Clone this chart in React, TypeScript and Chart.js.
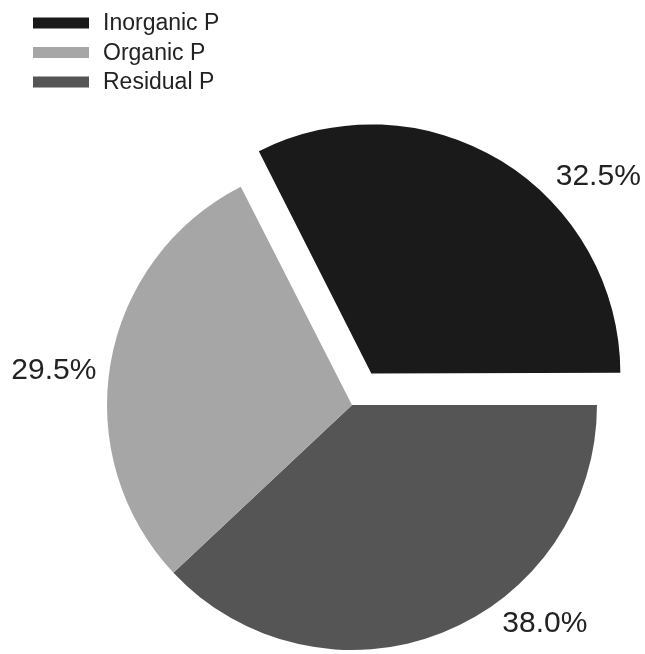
import React, { useEffect, useRef } from "react";
import { Chart, registerables } from "chart.js";

Chart.register(...registerables);

// Legend order
const categories = ["Inorganic P", "Organic P", "Residual P"];
const shares = [32.5, 29.5, 38.0];
const colors = ["#1a1a1a", "#a6a6a6", "#555555"];
const explode = [148, 0, 0];
// label placement: angle nudge (deg) from slice bisector, radial factor
const labelNudge = [15.7, -3.3, -19.8];
const labelRadius = [1.37, 1.225, 1.19];

// drawing order (clockwise from 3 o'clock): Residual, Organic, Inorganic
const drawOrder = [2, 1, 0];

const FONT = "'Liberation Sans', Arial, sans-serif";

const customPlugin = {
  id: "custom",
  afterDraw(chart: any) {
    const ctx = chart.ctx;
    const meta = chart.getDatasetMeta(0);
    ctx.save();
    // slice labels
    ctx.font = `30px ${FONT}`;
    ctx.fillStyle = "#222222";
    ctx.textAlign = "center";
    ctx.textBaseline = "middle";
    meta.data.forEach((arc: any, i: number) => {
      const ci = drawOrder[i];
      const mid = (arc.startAngle + arc.endAngle) / 2 + (labelNudge[ci] * Math.PI) / 180;
      const r = arc.outerRadius * labelRadius[ci];
      const x = arc.x + Math.cos(mid) * r;
      const y = arc.y + Math.sin(mid) * r;
      ctx.fillText(shares[ci].toFixed(1) + "%", x, y);
    });
    // legend
    ctx.font = `23px ${FONT}`;
    ctx.textAlign = "left";
    categories.forEach((c, i) => {
      const cy = 23 + i * 29.5;
      ctx.fillStyle = colors[i];
      ctx.fillRect(33, cy - 5.5, 56, 11);
      ctx.fillStyle = "#222222";
      ctx.fillText(c, 103, cy + 1);
    });
    ctx.restore();
  },
};

export default function App() {
  const ref = useRef<HTMLCanvasElement | null>(null);
  useEffect(() => {
    document.body.style.margin = "0";
    const canvas = ref.current;
    if (!canvas) return;
    const chart = new Chart(canvas, {
      type: "pie",
      data: {
        labels: drawOrder.map((i) => categories[i]),
        datasets: [
          {
            data: drawOrder.map((i) => shares[i]),
            backgroundColor: drawOrder.map((i) => colors[i]),
            offset: drawOrder.map((i) => explode[i]),
            borderWidth: 0,
            hoverOffset: 0,
          } as any,
        ],
      },
      options: {
        responsive: false,
        animation: false,
        devicePixelRatio: 1,
        rotation: 90,
        radius: 245,
        layout: { padding: { left: 59, right: 0, top: 156, bottom: 0 } },
        plugins: {
          legend: { display: false },
          tooltip: { enabled: false },
        },
        events: [],
      } as any,
      plugins: [customPlugin],
    });
    return () => chart.destroy();
  }, []);
  return (
    <div style={{ width: 645, height: 654, background: "#fff" }}>
      <canvas ref={ref} width={645} height={654} style={{ display: "block" }} />
    </div>
  );
}
